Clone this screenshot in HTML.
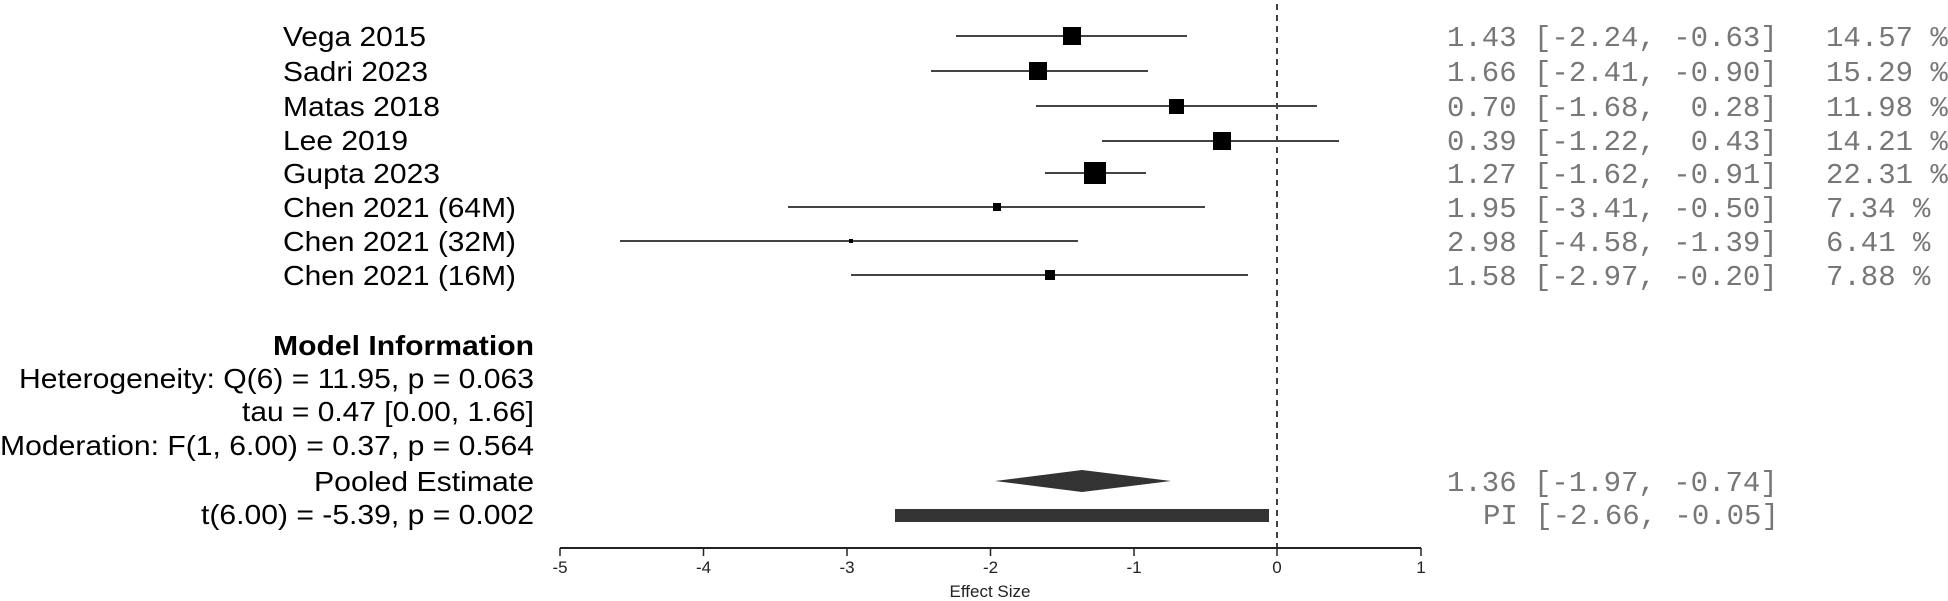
<!DOCTYPE html>
<html><head><meta charset="utf-8"><style>
html,body{margin:0;padding:0;background:#fff;width:1948px;height:601px;overflow:hidden}
svg{display:block}
.l{font-family:"Liberation Sans",Arial,sans-serif;font-size:28px;fill:#000}
.m{font-family:"Liberation Mono",monospace;font-size:29px;fill:#777;white-space:pre}
.t{font-family:"Liberation Sans",Arial,sans-serif;font-size:17px;fill:#222}
</style></head><body>
<svg width="1948" height="601" viewBox="0 0 1948 601" xmlns="http://www.w3.org/2000/svg">
<line x1="1277" y1="4" x2="1277" y2="548" stroke="#000" stroke-width="1.5" stroke-dasharray="6,5"/>
<g class="l">
<text x="283" y="46" textLength="143" lengthAdjust="spacingAndGlyphs">Vega 2015</text>
<text x="283" y="81" textLength="145" lengthAdjust="spacingAndGlyphs">Sadri 2023</text>
<text x="283" y="116" textLength="157" lengthAdjust="spacingAndGlyphs">Matas 2018</text>
<text x="283" y="150" textLength="125" lengthAdjust="spacingAndGlyphs">Lee 2019</text>
<text x="283" y="183" textLength="157" lengthAdjust="spacingAndGlyphs">Gupta 2023</text>
<text x="283" y="217" textLength="233" lengthAdjust="spacingAndGlyphs">Chen 2021 (64M)</text>
<text x="283" y="251" textLength="233" lengthAdjust="spacingAndGlyphs">Chen 2021 (32M)</text>
<text x="283" y="285" textLength="233" lengthAdjust="spacingAndGlyphs">Chen 2021 (16M)</text>
<text x="534" y="355" text-anchor="end" font-weight="bold" textLength="261" lengthAdjust="spacingAndGlyphs">Model Information</text>
<text x="534" y="388" text-anchor="end" textLength="515" lengthAdjust="spacingAndGlyphs">Heterogeneity: Q(6) = 11.95, p = 0.063</text>
<text x="534" y="421" text-anchor="end" textLength="292" lengthAdjust="spacingAndGlyphs">tau = 0.47 [0.00, 1.66]</text>
<text x="534" y="455" text-anchor="end" textLength="534" lengthAdjust="spacingAndGlyphs">Moderation: F(1, 6.00) = 0.37, p = 0.564</text>
<text x="534" y="491" text-anchor="end" textLength="220" lengthAdjust="spacingAndGlyphs">Pooled Estimate</text>
<text x="534" y="524" text-anchor="end" textLength="333" lengthAdjust="spacingAndGlyphs">t(6.00) = -5.39, p = 0.002</text>
</g>
<g stroke="#444" stroke-width="2">
<line x1="956" y1="36" x2="1187" y2="36"/>
<line x1="931" y1="71" x2="1148" y2="71"/>
<line x1="1036" y1="106" x2="1317" y2="106"/>
<line x1="1102" y1="141" x2="1339" y2="141"/>
<line x1="1045" y1="173" x2="1146" y2="173"/>
<line x1="788" y1="207" x2="1205" y2="207"/>
<line x1="620" y1="241" x2="1078" y2="241"/>
<line x1="851" y1="275" x2="1248" y2="275"/>
</g>
<g fill="#000">
<rect x="1063" y="27" width="18" height="18"/>
<rect x="1029" y="62" width="18" height="18"/>
<rect x="1169" y="99" width="15" height="15"/>
<rect x="1213" y="132" width="18" height="18"/>
<rect x="1084" y="162" width="22" height="22"/>
<rect x="993" y="203" width="8" height="8"/>
<rect x="849" y="239" width="4" height="4"/>
<rect x="1045" y="270" width="10" height="10"/>
</g>
<polygon points="995,481 1082,470 1171,481 1082,492" fill="#333"/>
<rect x="895" y="509" width="374" height="13" fill="#333"/>
<g class="m">
<text x="1447" y="46">1.43 [-2.24, -0.63]</text><text x="1826" y="46">14.57 %</text>
<text x="1447" y="81">1.66 [-2.41, -0.90]</text><text x="1826" y="81">15.29 %</text>
<text x="1447" y="116">0.70 [-1.68,&#160; 0.28]</text><text x="1826" y="116">11.98 %</text>
<text x="1447" y="150">0.39 [-1.22,&#160; 0.43]</text><text x="1826" y="150">14.21 %</text>
<text x="1447" y="183">1.27 [-1.62, -0.91]</text><text x="1826" y="183">22.31 %</text>
<text x="1447" y="217">1.95 [-3.41, -0.50]</text><text x="1826" y="217">7.34 %</text>
<text x="1447" y="251">2.98 [-4.58, -1.39]</text><text x="1826" y="251">6.41 %</text>
<text x="1447" y="285">1.58 [-2.97, -0.20]</text><text x="1826" y="285">7.88 %</text>
<text x="1447" y="491">1.36 [-1.97, -0.74]</text>
<text x="1483" y="524">PI [-2.66, -0.05]</text>
</g>
<line x1="560" y1="548" x2="1421" y2="548" stroke="#222" stroke-width="2"/>
<g stroke="#222" stroke-width="1.5">
<line x1="560" y1="548" x2="560" y2="556"/><line x1="703.5" y1="548" x2="703.5" y2="556"/>
<line x1="847" y1="548" x2="847" y2="556"/><line x1="990.5" y1="548" x2="990.5" y2="556"/>
<line x1="1134" y1="548" x2="1134" y2="556"/><line x1="1277" y1="548" x2="1277" y2="556"/>
<line x1="1421" y1="548" x2="1421" y2="556"/>
</g>
<g class="t" text-anchor="middle">
<text x="560" y="573">-5</text><text x="703.5" y="573">-4</text><text x="847" y="573">-3</text>
<text x="990.5" y="573">-2</text><text x="1134" y="573">-1</text><text x="1277" y="573">0</text>
<text x="1421" y="573">1</text>
<text x="990" y="597">Effect Size</text>
</g>
</svg>
</body></html>
